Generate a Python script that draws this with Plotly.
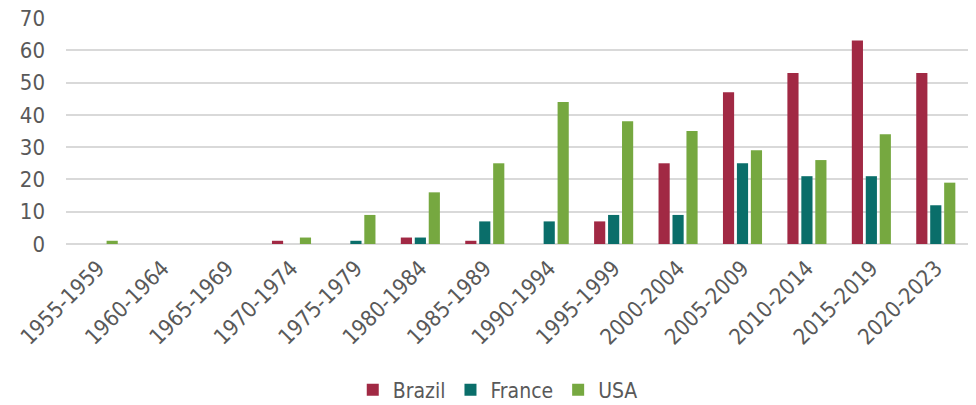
import plotly.graph_objects as go

categories = ["1955-1959", "1960-1964", "1965-1969", "1970-1974", "1975-1979",
              "1980-1984", "1985-1989", "1990-1994", "1995-1999", "2000-2004",
              "2005-2009", "2010-2014", "2015-2019", "2020-2023"]
brazil = [0, 0, 0, 1, 0, 2, 1, 0, 7, 25, 47, 53, 63, 53]
france = [0, 0, 0, 0, 1, 2, 7, 7, 9, 9, 25, 21, 21, 12]
usa = [1, 0, 0, 2, 9, 16, 25, 44, 38, 35, 29, 26, 34, 19]
y_ticks = [0, 10, 20, 30, 40, 50, 60, 70]

font_family = "DejaVu Sans Condensed, DejaVu Sans"
grey = "#595959"

fig = go.Figure()
for name, vals, color in [("Brazil", brazil, "#A12944"),
                          ("France", france, "#0A6E6A"),
                          ("USA", usa, "#76A840")]:
    fig.add_trace(go.Bar(x=categories, y=vals, name=name,
                         marker=dict(color=color, line=dict(width=0))))

fig.update_layout(
    width=976, height=405,
    margin=dict(l=66, r=8, t=18, b=161),
    paper_bgcolor="white", plot_bgcolor="white",
    barmode="group", bargap=0.35, bargroupgap=0.2,
    font=dict(family=font_family, color=grey, size=22),
    legend=dict(orientation="h", xref="container", yref="container",
                x=0.51, xanchor="center", y=0.037, yanchor="middle",
                font=dict(size=21, color=grey), itemwidth=30, traceorder="normal"),
    showlegend=True,
)
fig.update_xaxes(tickangle=-45, tickfont=dict(size=22, color=grey), showgrid=False,
                 showline=False, ticks="", automargin=False, ticklabelstandoff=6)
fig.update_yaxes(range=[0, 70], tickvals=y_ticks, showgrid=True, gridcolor="#d9d9d9",
                 gridwidth=1.5, zeroline=True, zerolinecolor="#d9d9d9", zerolinewidth=1.5,
                 tickfont=dict(size=22, color=grey), ticks="", ticklabelstandoff=20,
                 automargin=False)

fig.write_html("out.html")
